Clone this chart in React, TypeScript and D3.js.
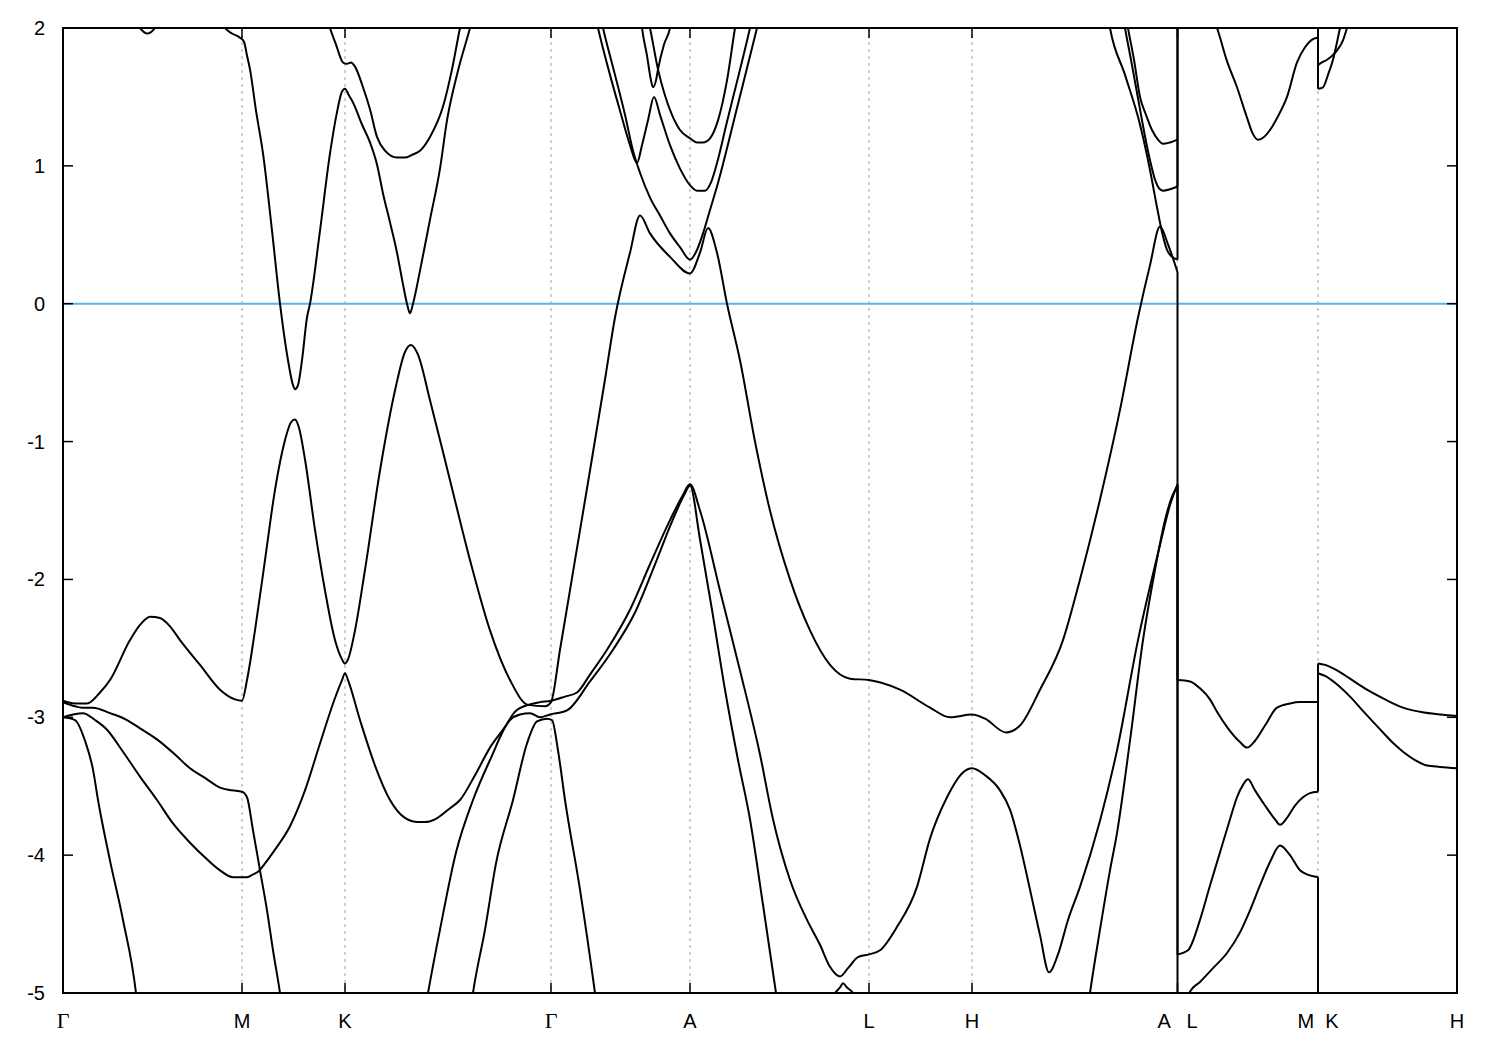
import React from 'react';
import * as d3 from 'd3';

type Pt = [number, number];

// high-symmetry points along the k-path
const kTicks = [0, 179, 282, 488, 627, 806, 909, 1114.5, 1255, 1394];
const kLabels = ['Γ', 'M', 'K', 'Γ', 'A', 'L', 'H', 'A   L', 'M  K', 'H'];
const energyTicks = [-5, -4, -3, -2, -1, 0, 1, 2];
const fermiEnergy = 0;

// Γ - M - K - Γ - A - L - H - A
const mainPathBands: Pt[][] = [
    [[0, -2.88], [12, -2.9], [24, -2.9], [37, -2.82], [47, -2.73], [67, -2.44], [77, -2.33], [87, -2.27], [97, -2.28], [107, -2.34], [117, -2.44], [137, -2.62], [157, -2.8], [172, -2.87], [179, -2.88], [184, -2.73], [192, -2.37], [202, -1.86], [212, -1.35], [222, -0.99], [228, -0.86], [232, -0.84], [236, -0.9], [242, -1.13], [252, -1.64], [262, -2.08], [272, -2.44], [279, -2.58], [282, -2.61], [285, -2.58], [292, -2.37], [302, -1.93], [317, -1.21], [332, -0.63], [342, -0.35], [348, -0.3], [355, -0.37], [367, -0.7], [387, -1.28], [407, -1.86], [427, -2.37], [447, -2.73], [465, -2.91], [482, -2.92], [488, -2.89], [497, -2.51], [512, -1.86], [527, -1.21], [542, -0.55], [552, -0.1], [567, 0.37], [577, 0.64], [587, 0.51], [607, 0.34], [627, 0.22], [637, 0.37], [645, 0.55], [654, 0.37], [664, 0.0], [677, -0.41], [692, -1.0], [707, -1.5], [727, -2.0], [747, -2.37], [767, -2.62], [787, -2.72], [806, -2.73], [837, -2.8], [867, -2.93], [887, -3.0], [909, -2.98], [922, -3.01], [943, -3.11], [957, -3.06], [977, -2.8], [1000, -2.44], [1017, -2.0], [1037, -1.42], [1057, -0.77], [1075, -0.1], [1087, 0.28], [1097, 0.56], [1105, 0.43], [1114.5, 0.23]],
    [[0, -2.89], [12, -2.92], [19, -2.93], [30, -2.93], [47, -2.97], [64, -3.02], [77, -3.08], [94, -3.16], [112, -3.27], [127, -3.37], [142, -3.44], [157, -3.51], [169, -3.53], [179, -3.54], [184, -3.58], [190, -3.82], [197, -4.11], [204, -4.4], [210, -4.69], [217, -5.0], [222, -5.27]],
    [[0, -3.0], [10, -2.98], [20, -2.97], [32, -3.02], [44, -3.09], [60, -3.25], [77, -3.43], [94, -3.6], [110, -3.77], [127, -3.91], [144, -4.03], [157, -4.11], [170, -4.16], [184, -4.16], [190, -4.14], [195, -4.12], [202, -4.06], [212, -3.96], [227, -3.79], [242, -3.53], [257, -3.19], [272, -2.86], [279, -2.73], [282, -2.68], [285, -2.73], [297, -3.02], [312, -3.35], [327, -3.6], [342, -3.73], [355, -3.76], [362, -3.76], [372, -3.74], [387, -3.66], [397, -3.6], [412, -3.42], [427, -3.22], [442, -3.07], [452, -2.96], [465, -2.91], [477, -2.89], [488, -2.88], [502, -2.85], [514, -2.82], [527, -2.69], [544, -2.51], [567, -2.22], [587, -1.89], [607, -1.57], [619, -1.4], [627, -1.31], [637, -1.5], [657, -2.08], [677, -2.66], [697, -3.27], [710, -3.74], [727, -4.18], [744, -4.47], [757, -4.65], [767, -4.81], [777, -4.88], [785, -4.82], [795, -4.74], [806, -4.72], [817, -4.69], [834, -4.52], [854, -4.23], [867, -3.88], [884, -3.58], [900, -3.4], [909, -3.37], [922, -3.42], [937, -3.53], [947, -3.67], [957, -3.93], [967, -4.25], [977, -4.58], [986, -4.85], [995, -4.72], [1005, -4.47], [1017, -4.23], [1037, -3.75], [1054, -3.24], [1075, -2.44], [1097, -1.75], [1107, -1.46], [1114.5, -1.31]],
    [[357, -5.34], [365, -5.0], [377, -4.54], [393, -3.98], [410, -3.6], [427, -3.31], [447, -3.02], [457, -2.98], [467, -2.97], [477, -3.0], [487, -2.98], [504, -2.95], [527, -2.74], [550, -2.51], [572, -2.24], [592, -1.89], [609, -1.58], [621, -1.39], [627, -1.32], [637, -1.71], [649, -2.22], [662, -2.8], [675, -3.31], [687, -3.74], [700, -4.36], [713, -5.0], [717, -5.2]],
    [[405, -5.27], [410, -5.0], [422, -4.54], [433, -4.06], [450, -3.6], [464, -3.19], [474, -3.03], [484, -3.01], [489, -3.02], [495, -3.24], [502, -3.6], [517, -4.25], [532, -5.0], [537, -5.27]],
    [[0, -3.0], [12, -3.02], [22, -3.17], [30, -3.38], [35, -3.6], [47, -4.04], [60, -4.47], [73, -5.0], [77, -5.27]],
    [[1022, -5.27], [1027, -5.0], [1037, -4.54], [1047, -4.11], [1054, -3.84], [1067, -3.17], [1080, -2.44], [1092, -1.93], [1102, -1.57], [1109, -1.4], [1114.5, -1.32]],
    [[762, -5.12], [772, -5.0], [777, -4.96], [780, -4.93], [784, -4.96], [790, -5.0], [797, -5.12]],
    [[69, 2.09], [77, 2.0], [81, 1.97], [84, 1.96], [88, 1.97], [92, 2.0], [99, 2.09]],
    [[155, 2.09], [162, 2.0], [169, 1.96], [177, 1.93], [181, 1.9], [184, 1.8], [187, 1.7], [193, 1.4], [200, 1.09], [209, 0.53], [217, 0.0], [225, -0.41], [230, -0.59], [232, -0.62], [235, -0.59], [239, -0.41], [244, -0.1], [247, 0.0], [257, 0.53], [267, 1.09], [274, 1.39], [279, 1.54], [282, 1.56], [286, 1.51], [290, 1.46], [299, 1.3], [307, 1.17], [314, 1.01], [320, 0.8], [327, 0.59], [334, 0.37], [340, 0.14], [344, 0.0], [347, -0.07], [350, 0.0], [357, 0.24], [367, 0.61], [377, 0.98], [384, 1.33], [395, 1.69], [407, 2.0], [413, 2.17]],
    [[262, 2.13], [267, 2.0], [273, 1.88], [280, 1.75], [284, 1.74], [288, 1.75], [292, 1.72], [300, 1.57], [307, 1.41], [314, 1.21], [322, 1.11], [334, 1.06], [342, 1.06], [349, 1.08], [357, 1.11], [367, 1.21], [380, 1.43], [389, 1.7], [397, 2.0], [401, 2.13]],
    [[531, 2.13], [535, 2.0], [547, 1.66], [557, 1.4], [567, 1.15], [574, 1.02], [579, 1.15], [585, 1.33], [591, 1.5], [597, 1.37], [607, 1.15], [617, 0.98], [627, 0.86], [634, 0.82], [642, 0.82], [648, 0.88], [654, 1.02], [664, 1.32], [675, 1.64], [687, 2.0], [691, 2.13]],
    [[536, 2.13], [540, 2.0], [552, 1.66], [562, 1.37], [570, 1.11], [577, 0.95], [587, 0.77], [597, 0.64], [607, 0.51], [617, 0.41], [627, 0.32], [634, 0.39], [640, 0.51], [647, 0.68], [654, 0.85], [674, 1.42], [694, 2.0], [697, 2.09]],
    [[583, 2.13], [587, 2.0], [595, 1.7], [602, 1.51], [609, 1.37], [617, 1.26], [627, 1.2], [634, 1.17], [640, 1.17], [647, 1.2], [655, 1.33], [664, 1.62], [672, 2.0], [675, 2.13]],
    [[577, 2.13], [579, 2.0], [584, 1.8], [588, 1.62], [590, 1.57], [593, 1.62], [595, 1.7], [601, 1.88], [607, 2.0], [610, 2.13]],
    [[1062, 2.13], [1065, 2.0], [1071, 1.77], [1077, 1.5], [1083, 1.37], [1089, 1.26], [1095, 1.19], [1100, 1.16], [1107, 1.17], [1114.5, 1.19]],
    [[1059, 2.13], [1062, 2.0], [1068, 1.77], [1074, 1.53], [1079, 1.33], [1084, 1.14], [1088, 1.01], [1092, 0.9], [1097, 0.83], [1100, 0.82], [1107, 0.83], [1114.5, 0.85]],
    [[1044, 2.13], [1047, 2.0], [1062, 1.66], [1077, 1.3], [1087, 0.97], [1094, 0.7], [1099, 0.52], [1104, 0.39], [1109, 0.34], [1114.5, 0.32]],
];

// L - M
const lmBands: Pt[][] = [
    [[1114.5, -2.73], [1127, -2.74], [1137, -2.79], [1147, -2.87], [1154, -2.96], [1165, -3.08], [1177, -3.18], [1184, -3.22], [1192, -3.17], [1202, -3.06], [1214, -2.93], [1227, -2.9], [1237, -2.89], [1255, -2.89]],
    [[1114.5, -4.72], [1125, -4.69], [1137, -4.47], [1147, -4.22], [1157, -3.98], [1167, -3.74], [1174, -3.58], [1180, -3.49], [1185, -3.45], [1192, -3.53], [1202, -3.64], [1212, -3.74], [1217, -3.78], [1224, -3.73], [1232, -3.64], [1240, -3.58], [1247, -3.55], [1255, -3.54]],
    [[1114.5, -5.27], [1127, -4.99], [1137, -4.92], [1150, -4.82], [1164, -4.71], [1177, -4.56], [1187, -4.4], [1197, -4.22], [1207, -4.05], [1217, -3.93], [1227, -4.0], [1237, -4.11], [1244, -4.14], [1255, -4.16]],
    [[1114.5, 2.6], [1137, 2.24], [1154, 2.0], [1164, 1.76], [1174, 1.57], [1184, 1.35], [1190, 1.23], [1195, 1.19], [1201, 1.21], [1207, 1.26], [1215, 1.36], [1224, 1.5], [1234, 1.75], [1242, 1.86], [1250, 1.92], [1255, 1.93]],
    [[1114.5, 3.1], [1190, 2.7], [1255, 2.35]],
];

// K - H
const khBands: Pt[][] = [
    [[1255, -2.61], [1262, -2.62], [1274, -2.66], [1287, -2.72], [1304, -2.8], [1322, -2.87], [1340, -2.93], [1357, -2.96], [1377, -2.98], [1394, -2.99]],
    [[1255, -2.68], [1262, -2.7], [1272, -2.75], [1287, -2.85], [1302, -2.97], [1320, -3.11], [1332, -3.2], [1340, -3.25], [1352, -3.31], [1364, -3.35], [1377, -3.36], [1394, -3.37]],
    [[1255, -5.5], [1320, -5.6], [1394, -5.7]],
    [[1255, 1.56], [1260, 1.57], [1265, 1.66], [1270, 1.77], [1277, 2.0], [1282, 2.17]],
    [[1255, 1.73], [1259, 1.75], [1264, 1.77], [1272, 1.82], [1280, 1.91], [1284, 2.0], [1289, 2.13]],
];

// band continuation across a path break: n-th lowest end joins n-th lowest start
const joinAcross = (left: Pt[][], right: Pt[][]): Pt[][] => {
    const kBreak = right[0][0][0];
    const ends = left
        .map((b) => b[b.length - 1])
        .filter((p) => p[0] === kBreak)
        .sort((a, b) => a[1] - b[1]);
    const starts = right
        .map((b) => b[0])
        .filter((p) => p[0] === kBreak)
        .sort((a, b) => a[1] - b[1]);
    const n = Math.min(ends.length, starts.length);
    return d3.range(n).map((i) => [ends[i], starts[i]] as Pt[]);
};

const App: React.FC = () => {
    const width = 1500;
    const height = 1050;
    const margin = { top: 28, right: 43, bottom: 57, left: 63 };
    const x = d3.scaleLinear().domain([0, 1394]).range([margin.left, width - margin.right]);
    const y = d3.scaleLinear().domain([-5, 2]).range([height - margin.bottom, margin.top]);

    const smooth = d3.line<Pt>().x((d) => x(d[0])).y((d) => y(d[1])).curve(d3.curveMonotoneX);
    const straight = d3.line<Pt>().x((d) => x(d[0])).y((d) => y(d[1]));

    const joins = [...joinAcross(mainPathBands, lmBands), ...joinAcross(lmBands, khBands)];
    const allBands = [...mainPathBands, ...lmBands, ...khBands];

    const x0 = margin.left;
    const x1 = width - margin.right;
    const y0 = margin.top;
    const y1 = height - margin.bottom;
    const tickLen = 10;
    const font = "'Liberation Sans', Arial, Helvetica, sans-serif";

    return (
        <div style={{ position: 'absolute', left: 0, top: 0, background: '#fff' }}>
            <svg width={width} height={height} style={{ display: 'block' }}>
                <defs>
                    <clipPath id="plot-area">
                        <rect x={x0} y={y0} width={x1 - x0} height={y1 - y0} />
                    </clipPath>
                </defs>
                <rect x={0} y={0} width={width} height={height} fill="#fff" />

                {kTicks.slice(1, -1).map((k, i) => (
                    <line key={'grid' + i} x1={x(k)} x2={x(k)} y1={y0} y2={y1}
                        stroke="#a0a0a0" strokeWidth={1} strokeDasharray="3,4" />
                ))}

                <line x1={x0} x2={x1} y1={y(fermiEnergy)} y2={y(fermiEnergy)}
                    stroke="#56b4e9" strokeWidth={2} />

                <g clipPath="url(#plot-area)" fill="none" stroke="#000" strokeWidth={2}
                    strokeLinejoin="round">
                    {allBands.map((b, i) => (
                        <path key={'band' + i} d={smooth(b) || ''} />
                    ))}
                    {joins.map((j, i) => (
                        <path key={'join' + i} d={straight(j) || ''} />
                    ))}
                </g>

                {energyTicks.map((e) => (
                    <g key={'yt' + e}>
                        <line x1={x0} x2={x0 + tickLen} y1={y(e)} y2={y(e)} stroke="#000" strokeWidth={1.5} />
                        <line x1={x1 - tickLen} x2={x1} y1={y(e)} y2={y(e)} stroke="#000" strokeWidth={1.5} />
                        <text x={x0 - 18} y={y(e) + 7} textAnchor="end" fontSize={20}
                            fontFamily={font} fill="#000">{e}</text>
                    </g>
                ))}

                {kTicks.map((k, i) => (
                    <g key={'xt' + i}>
                        <line x1={x(k)} x2={x(k)} y1={y1} y2={y1 - tickLen} stroke="#000" strokeWidth={1.5} />
                        <line x1={x(k)} x2={x(k)} y1={y0} y2={y0 + tickLen} stroke="#000" strokeWidth={1.5} />
                        <text x={x(k)} y={y1 + 35} textAnchor="middle"
                            fontSize={kLabels[i] === 'Γ' ? 22 : 20}
                            fontFamily={kLabels[i] === 'Γ' ? "'Liberation Serif', 'Times New Roman', serif" : font}
                            style={{ whiteSpace: 'pre' }} fill="#000">{kLabels[i]}</text>
                    </g>
                ))}

                <rect x={x0} y={y0} width={x1 - x0} height={y1 - y0} fill="none"
                    stroke="#000" strokeWidth={2} />
            </svg>
        </div>
    );
};

export default App;
